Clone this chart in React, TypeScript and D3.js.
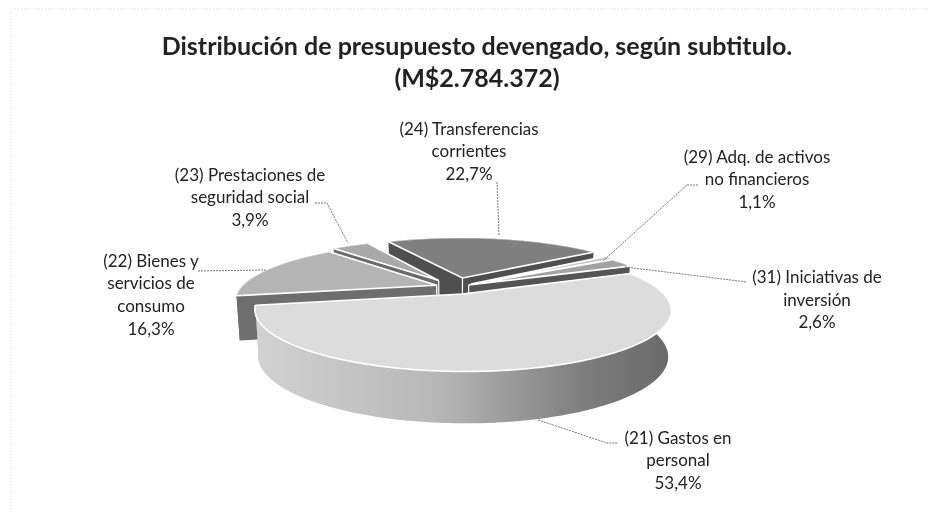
import React from "react";
import { pie, line, range } from "d3";

const subtitles = ["(21)", "(22)", "(23)", "(24)", "(29)", "(31)"];
const shares = [53.4, 16.3, 3.9, 22.7, 1.1, 2.6];
const explode = [0.13, 0.1, 0.15, 0.18, 0.1, 0.08];
const topFill = ["#dcdcdc", "#b4b4b4", "#a9a9a9", "#7f7f7f", "#c4c4c4", "#a2a2a2"];
const wallFill = ["#9a9a9a", "#6e6e6e", "#6a6a6a", "#505050", "#777777", "#555555"];
// back to front
const drawOrder = [3, 2, 4, 5, 1, 0];

const titleLines = ["Distribución de presupuesto devengado, según subtitulo.", "(M$2.784.372)"];
const labels = [
  { lines: ["(21) Gastos en", "personal", "53,4%"], x: 678, y: [444, 466, 489] },
  { lines: ["(22) Bienes y", "servicios de", "consumo", "16,3%"], x: 151, y: [267, 289, 312, 335] },
  { lines: ["(23) Prestaciones de", "seguridad social", "3,9%"], x: 250, y: [181, 203, 226] },
  { lines: ["(24) Transferencias", "corrientes", "22,7%"], x: 469, y: [135, 157, 180] },
  { lines: ["(29) Adq. de activos", "no financieros", "1,1%"], x: 757, y: [163, 185, 208] },
  { lines: ["(31) Iniciativas de", "inversión", "2,6%"], x: 817, y: [283, 306, 328] },
];
const leaders = [
  [[538, 420], [607, 443], [618, 443]],
  [[198, 271], [267, 270]],
  [[315, 203], [327, 203], [348, 243]],
  [[497, 182], [499, 235]],
  [[698, 185], [687, 185], [603, 261]],
  [[625, 267], [747, 282]],
];

const cx = 455;
const cy = 287;
const R = 195;
const Re = 54;
const persp = 0.25;
const H = 44;
const startAngle = (67 * Math.PI) / 180;

const pieLayout = pie<number>()
  .sort(null)
  .startAngle(startAngle)
  .endAngle(startAngle + Math.PI * 2);
const arcs = pieLayout(shares);

// ground plane -> screen, with a little perspective; z is depth below the top face
const project = (u: number, v: number, z = 0): [number, number] => {
  const s = 1 / (1 - persp * v);
  const f = 1 - 0.015 * z;
  return [cx + R * u * s * f, cy + Re * v * s + H * z * Math.sqrt(s)];
};

const path = line();

const sliceShapes = (i: number) => {
  const a = arcs[i];
  const mid = (a.startAngle + a.endAngle) / 2;
  const ox = explode[i] * Math.sin(mid);
  const oy = -explode[i] * Math.cos(mid);
  const n = Math.max(4, Math.ceil((a.endAngle - a.startAngle) * 40));
  const angles = range(n + 1).map((k) => a.startAngle + ((a.endAngle - a.startAngle) * k) / n);
  const rim = angles.map((t) => [ox + Math.sin(t), oy - Math.cos(t)]);
  const topRim = rim.map(([u, v]) => project(u, v));
  const lowRim = rim.map(([u, v]) => project(u, v, 1));
  const apex = project(ox, oy);
  const apexLow = project(ox, oy, 1);
  const first = topRim[0];
  const last = topRim[n];
  return {
    top: path([apex, ...topRim]) + "Z",
    topEdge: path([first, apex, last]),
    band: path([...topRim, ...lowRim.slice().reverse()]) + "Z",
    wallA: path([apex, first, lowRim[0], apexLow]) + "Z",
    wallB: path([apex, last, lowRim[n], apexLow]) + "Z",
    rimLine: path(topRim),
    inner: path([apex, apexLow]),
  };
};

export default function App() {
  return (
    <svg width={930} height={512} style={{ position: "absolute", left: 0, top: 0, display: "block" }}>
      <defs>
        <linearGradient id="frontWall" gradientUnits="userSpaceOnUse" x1={255} x2={670} y1={0} y2={0}>
          <stop offset="0" stopColor="#d2d2d2" />
          <stop offset="0.45" stopColor="#b6b6b6" />
          <stop offset="0.8" stopColor="#7c7c7c" />
          <stop offset="1" stopColor="#6a6a6a" />
        </linearGradient>
        <filter id="soft" x="-5%" y="-5%" width="110%" height="110%">
          <feGaussianBlur stdDeviation="0.45" />
        </filter>
      </defs>
      <rect width={930} height={512} fill="#ffffff" />
      <path d="M11 512V9H930" fill="none" stroke="#dddddd" strokeDasharray="1 2" />
      <g filter="url(#soft)">
        {drawOrder.map((i) => {
          const s = sliceShapes(i);
          const bandFill = i === 0 ? "url(#frontWall)" : wallFill[i];
          return (
            <g key={subtitles[i]}>
              <path d={s.wallA} fill={wallFill[i]} />
              <path d={s.wallB} fill={wallFill[i]} />
              <path d={s.inner ?? ""} stroke="#ffffff" strokeWidth={1.2} />
              <path d={s.band} fill={bandFill} />
              <path d={s.top} fill={topFill[i]} />
              <path d={s.topEdge ?? ""} fill="none" stroke="#ffffff" strokeWidth={1.6} />
              <path d={s.rimLine ?? ""} fill="none" stroke="#ffffff" strokeWidth={i === 0 ? 1.6 : 0.6} />
            </g>
          );
        })}
        {leaders.map((pts, i) => (
          <path
            key={i}
            d={path(pts as [number, number][]) ?? ""}
            fill="none"
            stroke="#777777"
            strokeWidth={1}
            strokeDasharray="2 1"
          />
        ))}
        <g fontFamily="Lato" textAnchor="middle" fill="#222222">
          {titleLines.map((t, i) => (
            <text key={t} x={477} y={[55, 87][i]} fontSize={25} fontWeight={700}>
              {t}
            </text>
          ))}
          {labels.map((l) =>
            l.lines.map((t, j) => (
              <text key={t} x={l.x} y={l.y[j]} fontSize={17}>
                {t}
              </text>
            ))
          )}
        </g>
      </g>
    </svg>
  );
}
